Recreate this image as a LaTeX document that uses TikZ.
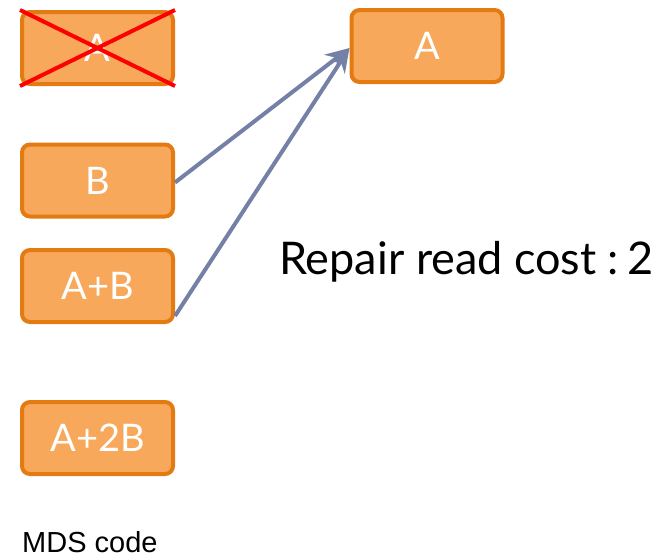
\documentclass[tikz,border=0pt]{standalone}
\usepackage{fontspec}
\setmainfont{Lato}
\newfontfamily\arialfont{Liberation Sans}
\usetikzlibrary{arrows.meta}
\definecolor{boxfill}{HTML}{F7A85A}
\definecolor{boxline}{HTML}{E47A12}
\definecolor{arrowc}{HTML}{7480A6}
\begin{document}
\begin{tikzpicture}[x=1pt,y=-1pt,
  blk/.style={draw=boxline,fill=boxfill,line width=4pt,rounded corners=8pt,minimum width=151pt,minimum height=72pt,inner sep=0pt,text=white,font=\fontsize{38}{40}\selectfont},
  conn/.style={draw=arrowc,line width=4pt,-{Stealth[length=24pt,width=20pt]}}]
\useasboundingbox (0,0) rectangle (664,558);
\node[blk] (a) at (97.5,48) {A};
\node[blk] (b) at (97.5,180.5) {B};
\node[blk] (ab) at (97.5,286) {A+B};
\node[blk] (a2b) at (97.5,438) {A+2B};
\node[blk] (ra) at (427,46) {A};
\draw[red,line width=4pt] (a.north west) -- (a.south east);
\draw[red,line width=4pt] (a.south west) -- (a.north east);
\draw[conn] ([yshift=-2pt]b.east) -- ([yshift=-2pt]ra.west);
\draw[conn] ([yshift=-30pt]ab.east) -- ([yshift=-2pt]ra.west);
\node[anchor=base west,inner sep=0pt,font=\fontsize{45}{50}\selectfont] (cost) at (279,274) {Repair read cost\hspace{11pt}:\hspace{9pt}2};
\node[anchor=base west,inner sep=0pt,font=\arialfont\fontsize{29}{30}\selectfont] (mds) at (22,552) {MDS code};
\end{tikzpicture}
\end{document}
